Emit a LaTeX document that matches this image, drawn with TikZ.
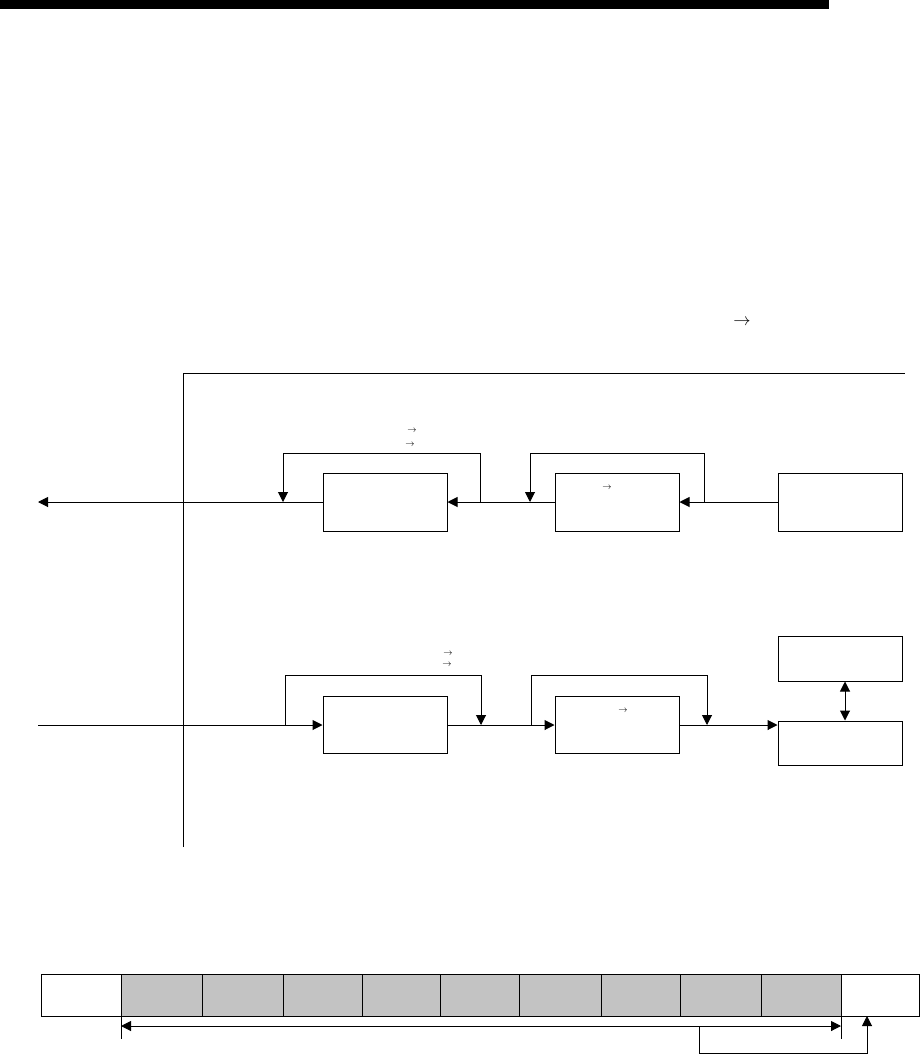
\documentclass[tikz,border=0pt]{standalone}
\usetikzlibrary{arrows.meta}
\begin{document}
\begin{tikzpicture}[x=1pt,y=-1pt,
  ln/.style={line width=1pt},
  tip/.style={ln,-{Triangle[length=10pt,width=10pt]}},
  dtip/.style={ln,{Triangle[length=10pt,width=10pt]}-{Triangle[length=10pt,width=10pt]}},
  blk/.style={draw,line width=1pt,minimum width=124pt,inner sep=0pt},
  cellw/.style={draw,line width=1pt,minimum height=42pt,inner sep=0pt,anchor=north west},
  sym/.style={inner sep=0pt,font=\fontsize{9}{9}\selectfont}]
\useasboundingbox (0,0) rectangle (921,1054);
% top bar
\fill (0,0) rectangle (829,9);
\node[sym,font=\fontsize{17}{17}\selectfont] (topar) at (742,322) {$\rightarrow$};
% frame lines
\coordinate (ftop) at (183,373);
\coordinate (fbot) at (183,847);
\coordinate (fright) at (905,373);
\draw[ln] (fbot) -- (ftop) -- (fright);
% top row
\node[blk,minimum height=58pt] (b1) at (385,502) {};
\node[blk,minimum height=58pt] (b2) at (617,502) {};
\node[blk,minimum height=58pt] (b3) at (840,502) {};
\coordinate (outL) at (38,502);
\draw[tip] (b3.west) -- (b2.east);
\draw[tip] (b2.west) -- (b1.east);
\draw[tip] (b1.west) -- (outL);
\coordinate (l2a) at (704,502);
\coordinate (l2b) at (530,502);
\draw[tip] (l2a) -- (704,453) -| (l2b);
\coordinate (l1a) at (480,502);
\coordinate (l1b) at (283,502);
\draw[tip] (l1a) -- (480,453) -| (l1b);
\node[sym] (s1) at (412,431) {$\rightarrow$};
\node[sym] (s2) at (410,445) {$\rightarrow$};
\node[sym] (s3) at (607,488) {$\rightarrow$};
% bottom row
\node[blk,minimum height=57pt] (b4) at (385,724.5) {};
\node[blk,minimum height=57pt] (b5) at (617,724.5) {};
\node[blk,minimum height=45pt] (b6) at (840,658.5) {};
\node[blk,minimum height=44pt] (b7) at (840,743) {};
\coordinate (inL) at (38,725);
\draw[tip] (inL) -- (b4.west |- inL);
\draw[tip] (b4.east |- inL) -- (b5.west |- inL);
\draw[tip] (b5.east |- inL) -- (b7.west |- inL);
\coordinate (m1a) at (285,725);
\coordinate (m1b) at (481,725);
\draw[tip] (m1a) -- (285,675) -| (m1b);
\coordinate (m2a) at (531,725);
\coordinate (m2b) at (707,725);
\draw[tip] (m2a) -- (531,675) -| (m2b);
\draw[dtip] (b6.south -| 845,0) -- (b7.north -| 845,0);
\node[sym] (s4) at (448,654) {$\rightarrow$};
\node[sym] (s5) at (447,665) {$\rightarrow$};
\node[sym] (s6) at (623,711) {$\rightarrow$};
% bottom cells
\node[cellw,minimum width=80pt] (c0) at (41,974) {};
\node[cellw,fill={rgb,255:red,195;green,195;blue,195},minimum width=81pt] (c1) at (121,974) {};
\node[cellw,fill={rgb,255:red,195;green,195;blue,195},minimum width=81pt] (c2) at (202,974) {};
\node[cellw,fill={rgb,255:red,195;green,195;blue,195},minimum width=79pt] (c3) at (283,974) {};
\node[cellw,fill={rgb,255:red,195;green,195;blue,195},minimum width=78pt] (c4) at (362,974) {};
\node[cellw,fill={rgb,255:red,195;green,195;blue,195},minimum width=79pt] (c5) at (440,974) {};
\node[cellw,fill={rgb,255:red,195;green,195;blue,195},minimum width=82pt] (c6) at (519,974) {};
\node[cellw,fill={rgb,255:red,195;green,195;blue,195},minimum width=79pt] (c7) at (601,974) {};
\node[cellw,fill={rgb,255:red,195;green,195;blue,195},minimum width=81pt] (c8) at (680,974) {};
\node[cellw,fill={rgb,255:red,195;green,195;blue,195},minimum width=80pt] (c9) at (761,974) {};
\node[cellw,minimum width=78pt] (c10) at (841,974) {};
\coordinate (tk1) at (121,1039);
\coordinate (tk2) at (841,1039);
\draw[ln] (c1.south west) -- (tk1);
\draw[ln] (c10.south west) -- (tk2);
\coordinate (da) at (121,1026);
\coordinate (db) at (841,1026);
\draw[dtip] (da) -- (db);
\coordinate (bra) at (699,1026);
\coordinate (brb) at (867,1016);
\draw[tip] (bra) |- (867,1053) -- (brb);
\end{tikzpicture}
\end{document}
